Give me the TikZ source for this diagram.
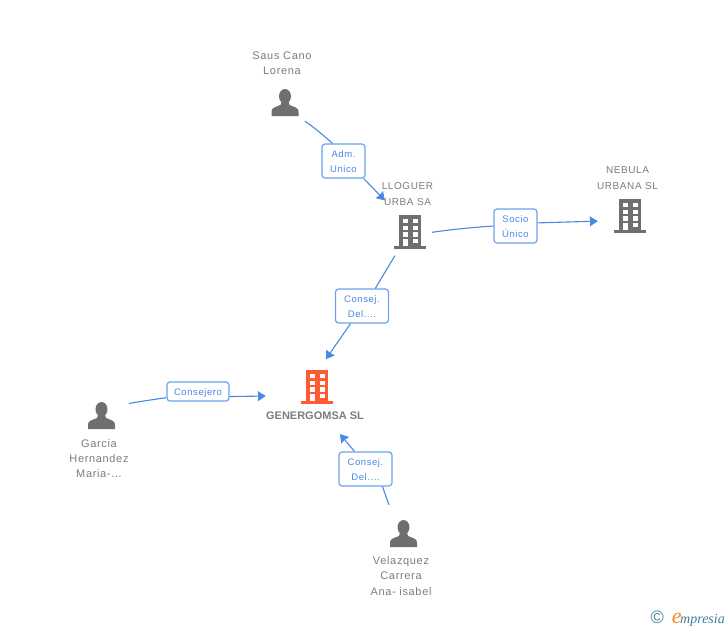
\documentclass[tikz,border=0pt]{standalone}
\usepackage{fontspec}
\setmainfont{Liberation Sans}
\newfontfamily\namefont[LetterSpace=6]{Liberation Sans}
\newfontfamily\logofont{Liberation Serif}
\usetikzlibrary{arrows.meta,shapes,positioning}
\definecolor{linkblue}{HTML}{4A88E4}
\definecolor{boxblue}{HTML}{6BA3EE}
\definecolor{icongray}{HTML}{6F6F6F}
\definecolor{namegray}{HTML}{7C7C7C}
\definecolor{mainorange}{HTML}{FF5B33}
\definecolor{logoteal}{HTML}{3F7F9B}
\definecolor{logoorange}{HTML}{F28A1E}
\tikzset{icon color/.style={iconfill/.style={fill=#1}}}
\tikzstyle{personicon} = [rectangle, inner sep=0pt, minimum width=27pt, minimum height=27pt, path picture={
  \begin{scope}[shift={(path picture bounding box.center)}]
    \fill [icongray] (0,-6.2) ellipse (6pt and 7.3pt);
    \fill [icongray] (-13.5,13.5) -- (-13.5,9) .. controls (-13.5,5) and (-9,4.5) .. (-4.5,2.5) -- (-3.5,-1) -- (3.5,-1) -- (4.5,2.5) .. controls (9,4.5) and (13.5,5) .. (13.5,9) -- (13.5,13.5) -- cycle;
  \end{scope}}]
\tikzstyle{buildingicon} = [rectangle, inner sep=0pt, minimum width=32pt, minimum height=34pt, icon color=icongray, path picture={
  \begin{scope}[shift={(path picture bounding box.center)}]
    \fill [iconfill] (-11,-17) rectangle (11,14);
    \fill [iconfill] (-16,14) rectangle (16,17);
    \foreach \wy in {-13.5,-6.5,0,6.5} {
      \fill [white] (-7.5,\wy) rectangle (-2.5,\wy+4.7);
      \fill [white] (2.5,\wy) rectangle (7.5,\wy+4.7);
    }
    \fill [white] (-7.5,6.5) rectangle (-2.5,14);
  \end{scope}}]
\tikzstyle{role} = [rectangle, rounded corners=3pt, draw=boxblue, line width=1.2pt, fill=white, inner sep=0pt, align=center, text=linkblue, font=\namefont\fontsize{9.5}{15}\selectfont, minimum height=34pt, text height=24pt]
\tikzstyle{nametext} = [inner sep=0pt, align=center, text=namegray, font=\namefont\fontsize{11}{15.3}\selectfont]
\tikzstyle{smallname} = [nametext, font=\namefont\fontsize{10}{15.3}\selectfont]
\tikzstyle{link} = [linkblue, line width=1.1pt]
\tikzstyle{arrow} = [link, -{Stealth[length=8pt,width=10pt,inset=0.5pt]}]

\begin{document}
\begin{tikzpicture}[x=1pt,y=-1pt]
\useasboundingbox (0,0) rectangle (728,630);

\node (saus) [personicon] at (285,102.5) {};
\node (garcia) [personicon] at (101.5,415.5) {};
\node (velazquez) [personicon] at (403.5,533.5) {};
\node (lloguer) [buildingicon] at (410,232) {};
\node (nebula) [buildingicon] at (630,216) {};
\node (genergomsa) [buildingicon, icon color=mainorange] at (317,387) {};

\node (sausname) [nametext] at (282,63) {Saus Cano\\Lorena};
\node (garcianame) [nametext] at (99,458.5) {Garcia\\Hernandez\\Maria-...};
\node (velazquezname) [nametext] at (401,576) {Velazquez\\Carrera\\Ana- isabel};
\node (lloguername) [smallname] at (407.5,194) {LLOGUER\\URBA SA};
\node (nebulaname) [smallname] at (627.5,178) {NEBULA\\URBANA SL};
\node (genergomsaname) [nametext, font=\bfseries\fontsize{11}{14}\selectfont] at (315,415.5) {GENERGOMSA SL};

\node (adm) [role, minimum width=43pt] at (343.5,161) {Adm.\\Unico};
\node (socio) [role, minimum width=43pt] at (515.5,226) {Socio\\Único};
\node (consejdel) [role, minimum width=53pt] at (362,306) {Consej.\\Del....};
\node (consejero) [role, minimum width=62pt, minimum height=19pt, text height=10.5pt] at (198,391.5) {Consejero};
\node (consejdelb) [role, minimum width=53pt] at (365.5,469) {Consej.\\Del....};

\draw [link, shorten <=9pt] (saus.-48) to [bend left=4] (adm.122);
\draw [arrow, shorten >=20pt] (adm.-41) -- (lloguer.123);
\draw [link, shorten <=6pt] (lloguer.-4) to [bend left=2] (socio.west);
\draw [arrow, shorten >=16pt] (socio.8) -- (nebula.196);
\draw [link, shorten <=7.5pt] (lloguer.237) -- (consejdel.53);
\draw [arrow, shorten >=13pt] (consejdel.237) -- (genergomsa.85);
\draw [link, shorten <=14pt] (garcia.35) to [bend left=1] (consejero.191);
\draw [arrow, shorten >=35pt] (consejero.-9) -- (genergomsa.208);
\draw [link, shorten <=16pt] (velazquez.124) -- (consejdelb.-46);
\draw [arrow, shorten >=39pt] (consejdelb.122) -- (genergomsa.263);

\node (logo) [inner sep=0pt, anchor=east] at (725,619) {\textcolor{logoteal}{\fontsize{18}{18}\selectfont ©}\hspace{8pt}\logofont\itshape\textcolor{logoorange}{\fontsize{22}{22}\selectfont e}\hspace{-1.5pt}\textcolor{logoteal}{\fontsize{14}{14}\selectfont mpresia}};

\end{tikzpicture}
\end{document}
